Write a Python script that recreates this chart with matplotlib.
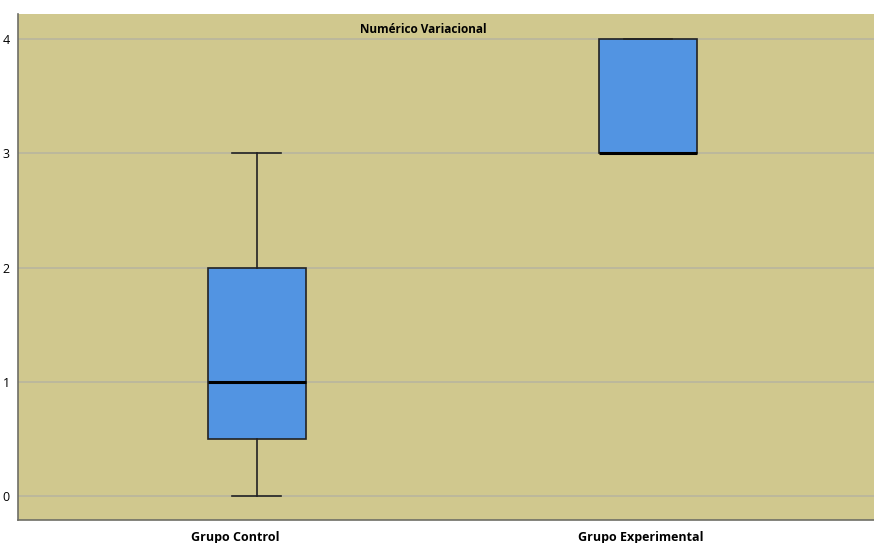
import matplotlib
matplotlib.use("Agg")
import matplotlib.pyplot as plt
from matplotlib.transforms import ScaledTranslation

# summary statistics per group (min, q1, median, q3, max)
groups = ["Grupo Control", "Grupo Experimental"]
whis_low = [0, 3]
q1 = [0.5, 3]
medians = [1, 3]
q3 = [2, 4]
whis_high = [3, 4]
y_ticks = [0, 1, 2, 3, 4]

plt.rcParams['font.family'] = ['Open Sans', 'DejaVu Sans']

fig = plt.figure(figsize=(8.74, 5.43), dpi=100)
ax = fig.add_axes([18 / 874, 23 / 543, 856 / 874, 506 / 543])
ax.set_facecolor('#D0C88E')

stats = []
for i, name in enumerate(groups):
    stats.append({'label': name, 'whislo': whis_low[i], 'q1': q1[i],
                  'med': medians[i], 'q3': q3[i], 'whishi': whis_high[i],
                  'fliers': []})

bp = ax.bxp(stats, positions=[1, 2], widths=0.25, patch_artist=True,
            showfliers=False,
            boxprops=dict(facecolor='#5294E2', edgecolor='#222222', linewidth=1.2),
            medianprops=dict(color='black', linewidth=2.2),
            whiskerprops=dict(color='#222222', linewidth=1.2),
            capprops=dict(color='#222222', linewidth=1.2))
for cap in bp['caps']:
    x0, x1 = cap.get_xdata()
    c = (x0 + x1) / 2
    cap.set_xdata([c - 0.0625, c + 0.0625])

ax.set_xlim(0.389, 2.578)
ax.set_ylim(-0.21, 4.22)
ax.set_yticks(y_ticks)
ax.set_yticklabels([str(t) for t in y_ticks], fontsize=9)
ax.set_xticks([1, 2])
ax.set_xticklabels(groups, fontsize=9, fontweight='bold')
ax.tick_params(axis='y', length=0, pad=6)
ax.tick_params(axis='x', length=0, pad=8)
# category labels sit a little left of the box centres
for lbl, dx in zip(ax.get_xticklabels(), [-22, -7]):
    lbl.set_transform(lbl.get_transform() + ScaledTranslation(dx / 100, 0, fig.dpi_scale_trans))
ax.yaxis.grid(True, color='#B9B59E', linewidth=1.2)
ax.set_axisbelow(True)

for s in ['top', 'right']:
    ax.spines[s].set_visible(False)
for s in ['left', 'bottom']:
    ax.spines[s].set_color('#6E6E66')
    ax.spines[s].set_linewidth(1.2)

ax.text(0.474, 0.970, "Numérico Variacional", transform=ax.transAxes,
        ha='center', va='center', fontsize=8.5, fontweight='bold')

fig.savefig("out.png", dpi=100)
